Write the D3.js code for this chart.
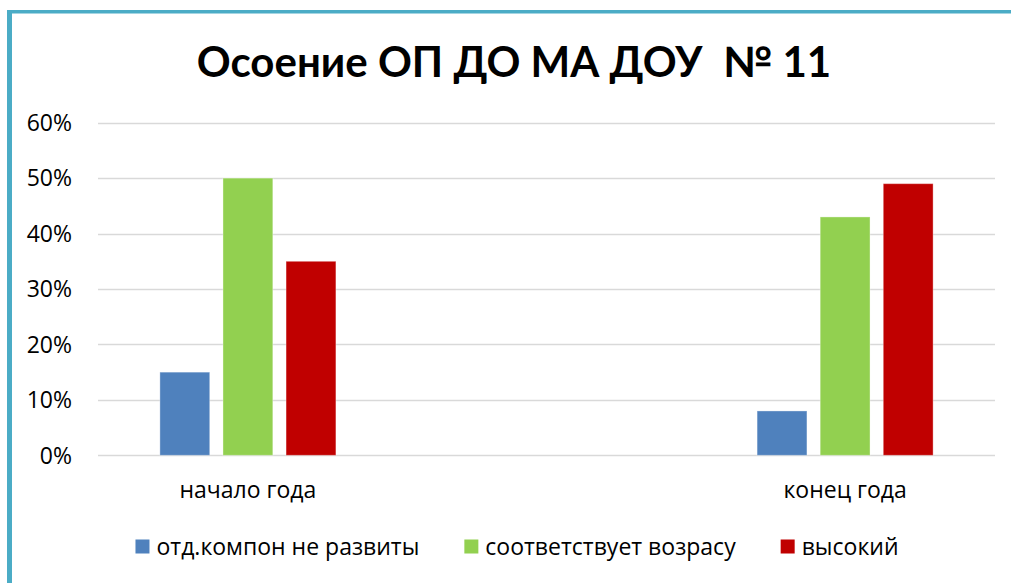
<!DOCTYPE html>
<html>
<head>
<meta charset="utf-8">
<script src="https://cdn.jsdelivr.net/npm/d3@7"></script>
<style>
  body { margin: 0; background: #fff; }
  svg { display: block; font-family: "Open Sans", Lato, sans-serif; }
</style>
</head>
<body>
<div id="chart"></div>
<script>
// данные
const categories = ["начало года", "конец года"];
const series = ["отд.компон не развиты", "соответствует возрасу", "высокий"];
const values = [
    [0.15, 0.08],  // отд.компон не развиты
    [0.50, 0.43],  // соответствует возрасу
    [0.35, 0.49]   // высокий
];
const colors = ["#4F81BD", "#92D050", "#C00000"];
const yTicks = [0, 0.1, 0.2, 0.3, 0.4, 0.5, 0.6];
const title = "Осоение ОП ДО МА ДОУ  № 11";

const width = 1011;
const height = 583;
const marginLeft = 98;
const marginRight = 16;
const plotTop = 122.7;
const plotBottom = 455.3;
const fontSize = 23;

const svg = d3.select("#chart")
    .append("svg")
    .attr("width", width)
    .attr("height", height)
    .attr("viewBox", [0, 0, width, height]);

svg.append("rect")
    .attr("width", width)
    .attr("height", height)
    .attr("fill", "#fff");

// рамка (слева и сверху)
svg.append("rect")
    .attr("x", 7).attr("y", 10)
    .attr("width", 5).attr("height", height - 10)
    .attr("fill", "#4BACC6");
svg.append("rect")
    .attr("x", 7).attr("y", 10)
    .attr("width", width - 7).attr("height", 3.5)
    .attr("fill", "#4BACC6");

// шкалы
const x0 = d3.scalePoint()
    .domain(categories)
    .range([marginLeft, width - marginRight])
    .padding(0.251);

const x1 = d3.scaleBand()
    .domain(series)
    .range([-88, 88])
    .paddingInner(0.21)
    .paddingOuter(0);

const y = d3.scaleLinear()
    .domain([0, 0.6])
    .range([plotBottom, plotTop]);

// сетка
svg.append("g")
    .selectAll("line")
    .data(yTicks)
    .join("line")
    .attr("x1", marginLeft)
    .attr("x2", width - marginRight)
    .attr("y1", d => Math.round(y(d)) + 0.5)
    .attr("y2", d => Math.round(y(d)) + 0.5)
    .attr("stroke", "#d9d9d9")
    .attr("stroke-width", 1.5);

// подписи оси Y
svg.append("g")
    .selectAll("text")
    .data(yTicks)
    .join("text")
    .attr("x", 72)
    .attr("y", d => y(d))
    .attr("dy", "0.36em")
    .attr("text-anchor", "end")
    .attr("font-size", fontSize)
    .attr("fill", "#000")
    .text(d => d3.format(".0%")(d));

// столбцы
const rows = [];
series.forEach((s, i) => {
    categories.forEach((c, j) => {
        rows.push({ series: s, category: c, value: values[i][j], color: colors[i] });
    });
});

svg.append("g")
    .selectAll("rect")
    .data(rows)
    .join("rect")
    .attr("x", d => x0(d.category) + x1(d.series))
    .attr("y", d => y(d.value))
    .attr("width", x1.bandwidth())
    .attr("height", d => y(0) - y(d.value))
    .attr("fill", d => d.color)
    .attr("stroke", "rgba(255,255,255,0.35)")
    .attr("stroke-width", 1);

// подписи категорий
svg.append("g")
    .selectAll("text")
    .data(categories)
    .join("text")
    .attr("x", d => x0(d))
    .attr("y", 498)
    .attr("text-anchor", "middle")
    .attr("font-size", fontSize)
    .attr("fill", "#000")
    .text(d => d);

// заголовок
svg.append("text")
    .attr("x", 514)
    .attr("y", 77)
    .attr("text-anchor", "middle")
    .attr("font-family", "Lato, sans-serif")
    .attr("font-size", 42)
    .attr("font-weight", "bold")
    .attr("fill", "#000")
    .attr("xml:space", "preserve")
    .style("white-space", "pre")
    .text(title);

// легенда
const legend = svg.append("g");
const items = legend.selectAll("g")
    .data(series)
    .join("g");
items.append("rect")
    .attr("width", 14)
    .attr("height", 14)
    .attr("y", 539.5)
    .attr("fill", (d, i) => colors[i]);
items.append("text")
    .attr("x", 21)
    .attr("y", 554.5)
    .attr("font-size", fontSize)
    .attr("fill", "#000")
    .text(d => d);

let pos = 0;
const offsets = [];
items.each(function () {
    const w = 21 + d3.select(this).select("text").node().getComputedTextLength();
    offsets.push(pos);
    pos += w + 45;
});
const total = pos - 45;
const start = 517 - total / 2;
items.attr("transform", (d, i) => `translate(${start + offsets[i]},0)`);
</script>
</body>
</html>
